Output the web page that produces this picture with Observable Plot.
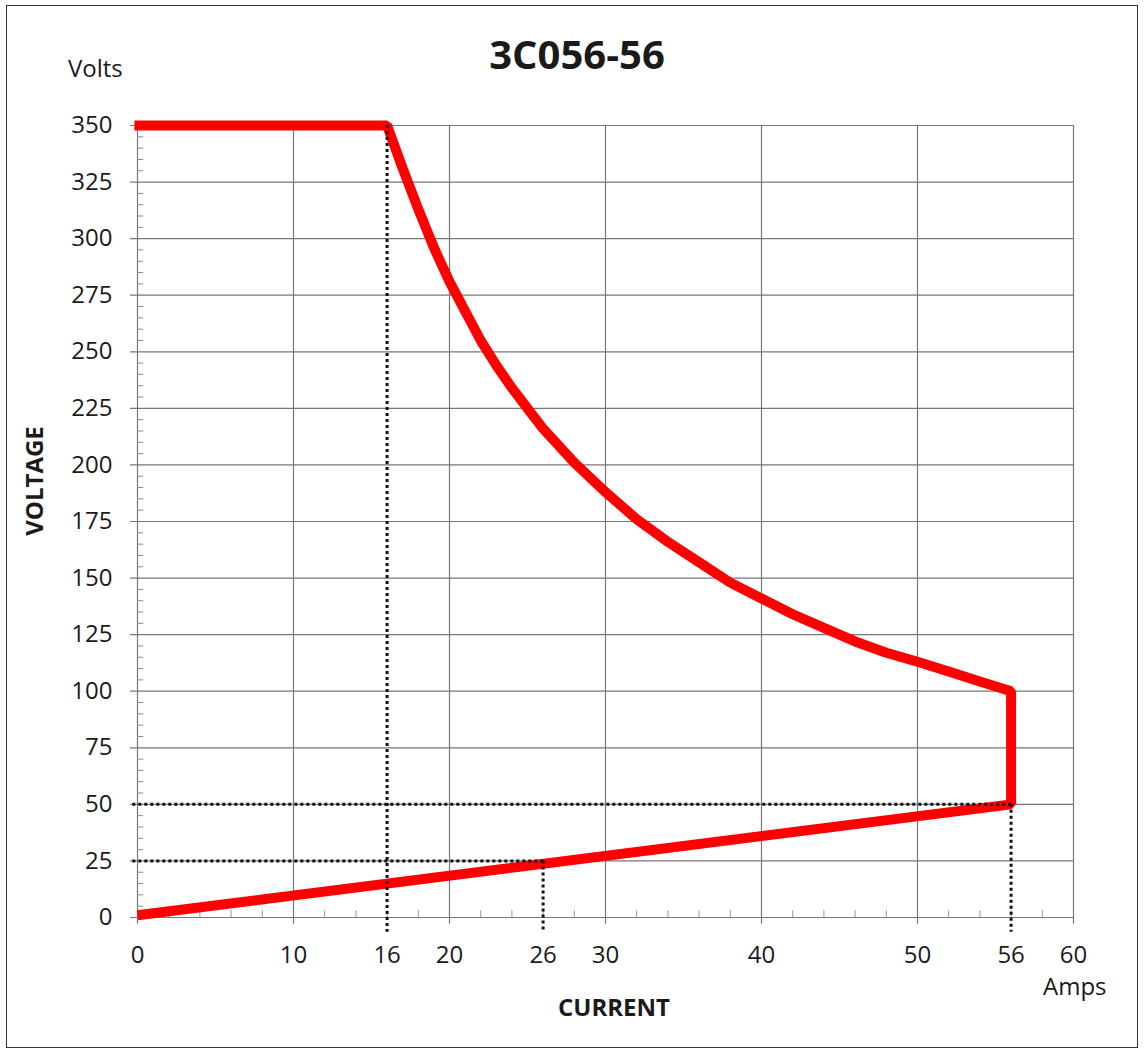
<!DOCTYPE html>
<html><head><meta charset="utf-8">
<script src="https://cdn.jsdelivr.net/npm/d3@7"></script>
<script src="https://cdn.jsdelivr.net/npm/@observablehq/plot@0.6"></script>
<style>
body{margin:0;background:#fff;}
#wrap{position:relative;width:1144px;height:1054px;font-family:"Open Sans",sans-serif;color:#1a1a1a;overflow:hidden;}
#frame{position:absolute;left:6px;top:5px;width:1130px;height:1041px;border:1.5px solid #333;}
#chart{position:absolute;left:0;top:0;}
.t{position:absolute;line-height:1;white-space:nowrap;}
#title{left:277px;width:600px;text-align:center;top:34px;font-size:40px;font-weight:700;}
#volts{left:68px;top:56px;font-size:24px;}
#amps{left:1043px;top:974px;font-size:24px;}
#current{left:414px;width:400px;text-align:center;top:995px;font-size:24px;font-weight:700;}
#voltage{left:34px;top:481px;font-size:24px;font-weight:700;transform:translate(-50%,-50%) rotate(-90deg);}
</style></head><body>
<div id="wrap">
  <div id="frame"></div>
  <div id="chart"></div>
  <div class="t" id="title">3C056-56</div>
  <div class="t" id="volts">Volts</div>
  <div class="t" id="amps">Amps</div>
  <div class="t" id="current">CURRENT</div>
  <div class="t" id="voltage">VOLTAGE</div>
</div>
<script>
// Red limit curve (current in A, voltage in V)
const currentA = [-0.2, 16, 17, 18, 19, 20, 21, 22, 23, 24, 25, 26, 28, 30, 32, 34, 36, 38, 40, 42, 44, 46, 48, 50, 52, 54, 56, 56, 0];
const voltageV = [350, 350, 331, 313, 296, 281, 268, 255, 244, 234, 225, 216, 201, 188, 176, 166, 157, 148, 141, 134, 128, 122, 117, 113, 108.7, 104.3, 100, 50, 1];

// Tick labels and grid
const xTickLabels = [0, 10, 16, 20, 26, 30, 40, 50, 56, 60];
const xGrid = [0, 10, 20, 30, 40, 50, 60];
const yTickLabels = [0, 25, 50, 75, 100, 125, 150, 175, 200, 225, 250, 275, 300, 325, 350];
const xMinor = d3.range(2, 60, 2).filter(v => v % 10 !== 0);
const yMinor = d3.range(5, 350, 5).filter(v => v % 25 !== 0);

// Dotted reference lines
const dropX = [16, 26, 56];
const dropXTop = [350, 25, 50];
const levelY = [50, 25];
const levelYEnd = [56, 26];

const curve = currentA.map((c, i) => ({c, v: voltageV[i]}));
const drops = dropX.map((x, i) => ({x, top: dropXTop[i]}));
const levels = levelY.map((y, i) => ({y, end: levelYEnd[i]}));

const chart = Plot.plot({
  width: 1144,
  height: 1054,
  marginLeft: 137,
  marginRight: 71,
  marginTop: 125,
  marginBottom: 137,
  style: {fontFamily: "'Open Sans', sans-serif", fontSize: "24px", background: "transparent", color: "#1a1a1a"},
  x: {domain: [0, 60], axis: null},
  y: {domain: [0, 350], axis: null},
  marks: [
    Plot.ruleY(yTickLabels, {y: d => d, x1: -0.45, x2: 60, stroke: "#777", strokeWidth: 1.2}),
    Plot.ruleX(xGrid, {x: d => d, y1: -3, y2: 350, stroke: "#777", strokeWidth: 1.2}),
    Plot.ruleY(yMinor, {y: d => d, x1: 0, x2: 0.4, stroke: "#8a8a8a", strokeWidth: 1}),
    Plot.ruleX(xMinor, {x: d => d, y1: 0, y2: 3, stroke: "#999", strokeWidth: 1}),
    Plot.line(curve, {x: "c", y: "v", stroke: "#ff0000", strokeWidth: 10, strokeLinejoin: "miter", strokeLinecap: "butt"}),
    Plot.ruleX(drops, {x: "x", y1: "top", y2: -6.5, stroke: "#111", strokeWidth: 3, strokeDasharray: "3,3"}),
    Plot.ruleY(levels, {y: "y", x1: -0.3, x2: "end", stroke: "#111", strokeWidth: 3, strokeDasharray: "3,3"}),
    Plot.axisX(xTickLabels, {tickSize: 0, tickPadding: 28, fontSize: 24, fill: "#1a1a1a", label: null}),
    Plot.axisY(yTickLabels, {tickSize: 0, tickPadding: 25, fontSize: 24, fill: "#1a1a1a", label: null})
  ]
});
document.getElementById("chart").appendChild(chart);
</script>
</body></html>
